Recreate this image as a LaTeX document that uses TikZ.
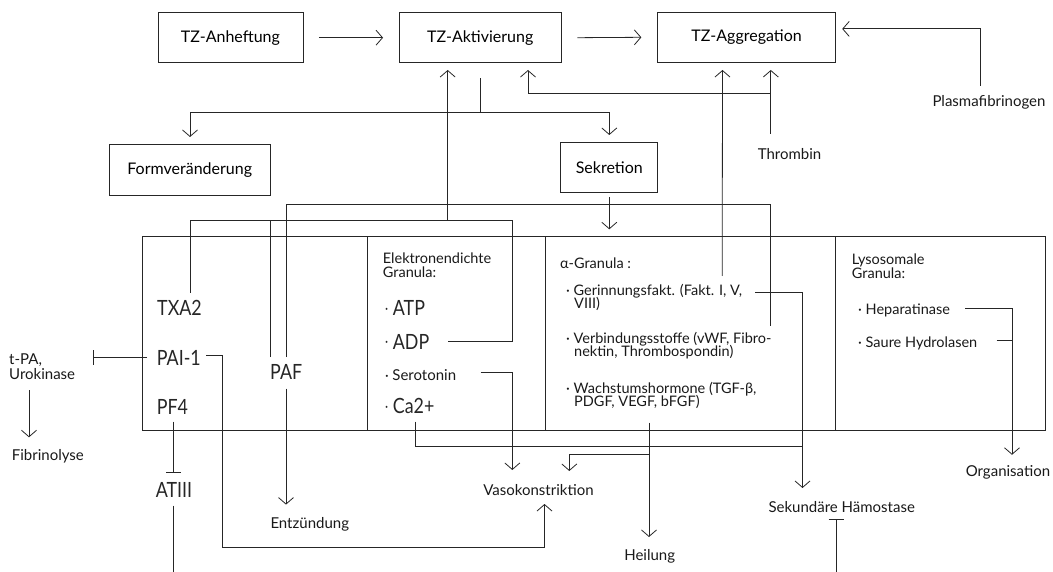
\documentclass[tikz,border=0pt]{standalone}
\usepackage{fontspec}
\setmainfont{Lato}
\newfontfamily\blk[FakeStretch=0.85]{Lato}
\usetikzlibrary{arrows.meta}
\newcommand{\bdot}{\raisebox{2.5pt}{\fontsize{14}{14}\selectfont·}\ }
\tikzset{
  ln/.style={line width=0.8pt, draw=black!85},
  arr/.style={ln, -{Straight Barb[length=6.5pt,width=15pt,line width=0.8pt]}},
  inh/.style={ln, -{Bar[width=15pt,line width=0.8pt]}},
  box/.style={ln, rectangle, inner sep=0pt, font=\fontsize{16}{16}\selectfont},
  hw/.style={inner sep=0pt, font=\fontsize{15}{15}\selectfont, text=black!90},
  gr/.style={inner sep=0pt, font=\fontsize{14.5}{17}\selectfont, text=black!90, align=left},
  bk/.style={inner sep=0pt, font=\blk\fontsize{21}{21}\selectfont, text=black!85},
}
\begin{document}
\begin{tikzpicture}[x=1pt,y=-1pt]
\useasboundingbox (0,0) rectangle (1053,572);
% top boxes
\node[box, draw, minimum width=145pt, minimum height=50pt] (anh) at (230.4,37.7) {TZ-Anheftung};
\node[box, draw, minimum width=161.5pt, minimum height=50pt] (akt) at (480.2,37.7) {TZ-Aktivierung};
\node[box, draw, minimum width=177.7pt, minimum height=49.3pt] (agg) at (746.6,37.3) {TZ-Aggregation};
\node[box, draw, minimum width=161.3pt, minimum height=50.6pt] (form) at (189.7,169.9) {Formveränderung};
\node[box, draw, minimum width=97pt, minimum height=49.2pt] (sek) at (609.3,167.4) {Sekretion};
\node[hw] (pfib) at (989,102) {Plasmafibrinogen};
\node[hw] (thr) at (789.5,153.6) {Thrombin};
% big panel
\node[ln, draw, rectangle, inner sep=0pt, minimum width=902.3pt, minimum height=193.9pt] (panel) at (593.85,333.65) {};
\draw[ln] (367.4,236.7) -- (367.4,430.6);
\draw[ln] (545,236.7) -- (545,430.6);
\draw[ln] (835,236.7) -- (835,430.6);
% first section
\node[bk, anchor=west] (txa) at (157,308.3) {TXA2};
\node[bk, anchor=west] (pai) at (156.7,358.3) {PAI-1};
\node[bk, anchor=west] (pf4) at (156.7,406.7) {PF4};
\node[bk, anchor=west] (paf) at (270,371.7) {PAF};
% electron dense
\node[gr, anchor=north west] (eg) at (382.7,252.5) {Elektronendichte\\[-3pt]Granula:};
\node[bk, anchor=west] (atp) at (385,308.3) {\bdot ATP};
\node[bk, anchor=west] (adp) at (385,341.7) {\bdot ADP};
\node[hw, anchor=west] (ser) at (385,375) {\fontsize{14}{14}\selectfont·\ \fontsize{15}{15}\selectfont Serotonin};
\node[bk, anchor=west] (ca) at (385,406) {\bdot Ca2+};
% alpha granula
\node[gr, anchor=west] (ag) at (560,263.3) {α-Granula :};
\node[gr, anchor=north west] (ger) at (566,284) {· Gerinnungsfakt. (Fakt. I, V,\\[-4pt]\hspace{8pt}VIII)};
\node[gr, anchor=north west] (ver) at (566,332.5) {· Verbindungsstoffe (vWF, Fibro-\\[-4pt]\hspace{8pt}nektin, Thrombospondin)};
\node[gr, anchor=north west] (wac) at (566,382.5) {· Wachstumshormone (TGF-β,\\[-4pt]\hspace{8pt}PDGF, VEGF, bFGF)};
% lysosomal
\node[gr, anchor=north west] (lg) at (851.7,253.5) {Lysosomale\\[-3pt]Granula:};
\node[gr, anchor=west] (hep) at (858,310) {· Heparatinase};
\node[gr, anchor=west] (shy) at (858,343.3) {· Saure Hydrolasen};
% outside labels
\node[hw, anchor=north west, align=left, font=\fontsize{15}{13}\selectfont] (tpa) at (9,354) {t-PA,\\Urokinase};
\node[hw, anchor=west] (fib) at (11.7,456.7) {Fibrinolyse};
\node[bk] (at3) at (174,489.5) {ATIII};
\node[hw, anchor=west] (ent) at (270.3,524.6) {Entzündung};
\node[hw] (vaso) at (538.5,490) {Vasokonstriktion};
\node[hw] (heil) at (649.7,556) {Heilung};
\node[hw] (shae) at (841.7,507.5) {Sekundäre Hämostase};
\node[hw] (org) at (1008,472.5) {Organisation};
% coordinates
\coordinate (aktIn1) at (447.7,70);
\coordinate (aktIn2) at (528,70);
\coordinate (aktOut) at (480,78.5);
\coordinate (splitY) at (480,112);
\coordinate (formIn) at (190,137);
\coordinate (sekIn) at (609.3,135);
\coordinate (aggIn1) at (722.5,70);
\coordinate (aggIn2) at (770.8,70);
\coordinate (aggInR) at (842.2,28.9);
\coordinate (pfTop) at (980.6,85.7);
\coordinate (thrTop) at (770.8,134);
\coordinate (thrJ) at (770.8,93.5);
\coordinate (sekOut) at (609.3,197);
\coordinate (panelIn) at (609.3,229.3);
\coordinate (gerTop) at (722.2,276);
\coordinate (verTop) at (770.7,326);
\coordinate (pafL) at (270.5,357);
\coordinate (pafR) at (286,357);
\coordinate (txaTop) at (190,293);
\coordinate (adpR) at (448,341.7);
\coordinate (bus1) at (512,220.7);
\coordinate (bus2) at (770.7,204.5);
\coordinate (jAkt) at (447.7,220.7);
\coordinate (jPafL) at (270.5,220.7);
\coordinate (pafBot) at (286,388.6);
\coordinate (entIn) at (286,504.6);
\coordinate (paiR) at (206,355.7);
\coordinate (paiL) at (147,357.3);
\coordinate (tpaBar) at (92.7,357.3);
\coordinate (paiLow) at (222,547);
\coordinate (vasoUp) at (544.5,504);
\coordinate (tpaBot) at (29,390);
\coordinate (fibIn) at (29,437.3);
\coordinate (pf4Bot) at (173.3,421.7);
\coordinate (at3Bar) at (173.3,472.3);
\coordinate (at3Bot) at (173.3,505.7);
\coordinate (at3End) at (173.3,572);
\coordinate (serR) at (480.7,372.7);
\coordinate (vasoIn1) at (512.3,470);
\coordinate (caBot) at (415.7,421.7);
\coordinate (gerR) at (755,292.3);
\coordinate (caJ) at (802.5,446.3);
\coordinate (shaeIn) at (802.5,488);
\coordinate (wacBot) at (649,422.5);
\coordinate (heilIn) at (649,537);
\coordinate (wacJ) at (649,454.8);
\coordinate (vasoIn2) at (569.3,471);
\coordinate (shaeEnd) at (836,572);
\coordinate (shaeBar) at (836,519.4);
\coordinate (hepR) at (965,308.3);
\coordinate (shyR) at (996.7,340.7);
\coordinate (orgIn) at (1012,454.8);
% connectors
\draw[arr] ([xshift=15.5pt]anh.east) -- ([xshift=-16pt]akt.west);
\draw[arr] ([xshift=16pt]akt.east) -- ([xshift=-16pt]agg.west);
\draw[arr] (pfTop) |- (aggInR);
\draw[arr] (thrTop) -- (aggIn2);
\draw[arr] (thrJ) -| (aktIn2);
\draw[arr] (gerTop) -- (aggIn1);
\draw[ln] (aktOut) -- (splitY);
\draw[arr] (splitY) -| (formIn);
\draw[arr] (splitY) -| (sekIn);
\draw[arr] (sekOut) -- (panelIn);
\draw[arr] (jAkt) -- (aktIn1);
\draw[ln] (txaTop) |- (bus1) |- (adpR);
\draw[ln] (pafL) -- (jPafL);
\draw[ln] (pafR) |- (bus2) -- (verTop);
\draw[arr] (pafBot) -- (entIn);
\draw[arr] (paiR) -| (paiLow) -| (vasoUp);
\draw[inh] (paiL) -- (tpaBar);
\draw[arr] (tpaBot) -- (fibIn);
\draw[inh] (pf4Bot) -- (at3Bar);
\draw[ln] (at3Bot) -- (at3End);
\draw[arr] (serR) -| (vasoIn1);
\draw[ln] (caBot) |- (caJ);
\draw[arr] (gerR) -| (shaeIn);
\draw[arr] (wacBot) -- (heilIn);
\draw[arr] (wacJ) -| (vasoIn2);
\draw[inh] (shaeEnd) -- (shaeBar);
\draw[arr] (hepR) -| (orgIn);
\draw[ln] (shyR) -- (shyR -| orgIn);
\end{tikzpicture}
\end{document}
